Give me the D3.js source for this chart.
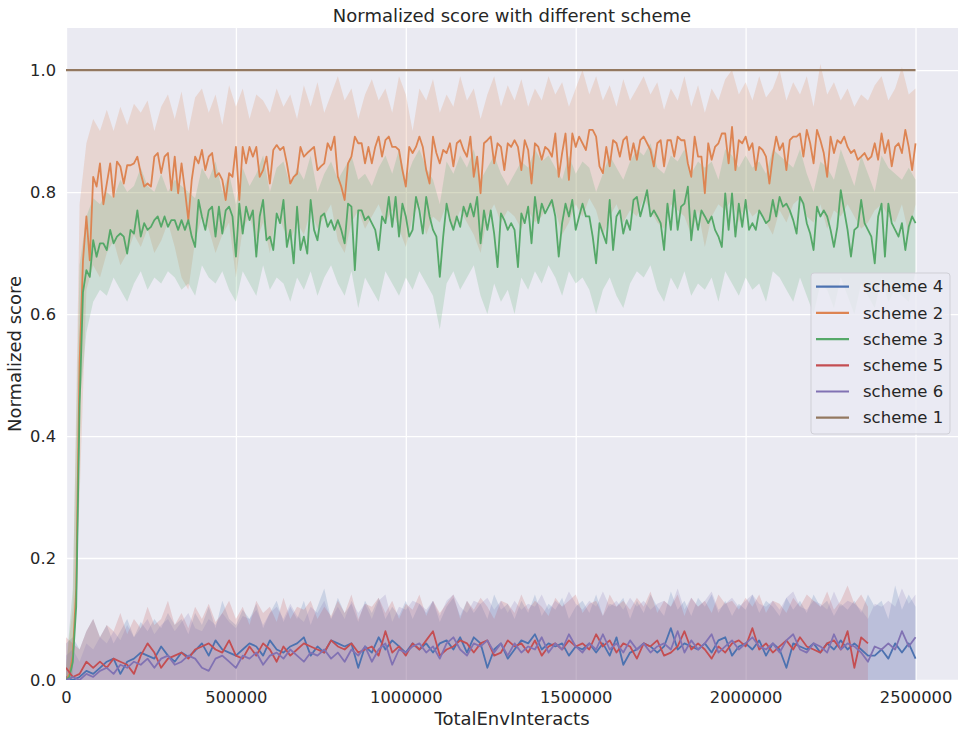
<!DOCTYPE html>
<html>
<head>
<meta charset="utf-8">
<script src="https://cdn.jsdelivr.net/npm/d3@7"></script>
<style>
body { margin: 0; background: #fff; }
text { font-family: "DejaVu Sans", sans-serif; fill: #262626; }
</style>
</head>
<body>
<svg id="chart" width="970" height="736"></svg>
<script>
// valori: medie ogni 10000 interazioni (scheme 2 e 3), il resto ogni 20000
const passo_fine = 10000
const passo = 20000

const legenda = ["scheme 4", "scheme 2", "scheme 3", "scheme 5", "scheme 6", "scheme 1"]
const x_ticks = [0, 500000, 1000000, 1500000, 2000000, 2500000]
const y_ticks = [0.0, 0.2, 0.4, 0.6, 0.8, 1.0]

// scheme 1: costante
const s1_x = [0, 2500000]
const s1_media = [1.0, 1.0]

// scheme 2 (arancione), passo 10000
const s2_media = [
 0.0, 0.01, 0.04, 0.15, 0.52, 0.688, 0.76, 0.688, 0.825, 0.809,
 0.847, 0.78, 0.814, 0.847, 0.792, 0.85, 0.842, 0.814, 0.844, 0.844,
 0.847, 0.858, 0.831, 0.809, 0.814, 0.809, 0.858, 0.864, 0.831, 0.858,
 0.864, 0.803, 0.858, 0.798, 0.847, 0.803, 0.754, 0.82, 0.858, 0.847,
 0.869, 0.836, 0.858, 0.864, 0.825, 0.831, 0.82, 0.787, 0.831, 0.825,
 0.874, 0.787, 0.874, 0.847, 0.874, 0.858, 0.874, 0.825, 0.836, 0.858,
 0.814, 0.869, 0.877, 0.869, 0.874, 0.847, 0.814, 0.825, 0.83, 0.874,
 0.858, 0.864, 0.869, 0.874, 0.836, 0.842, 0.847, 0.88, 0.869, 0.891,
 0.825, 0.809, 0.787, 0.847, 0.858, 0.891, 0.88, 0.88, 0.847, 0.874,
 0.847, 0.874, 0.891, 0.858, 0.885, 0.891, 0.874, 0.874, 0.869, 0.836,
 0.809, 0.874, 0.864, 0.874, 0.891, 0.874, 0.836, 0.814, 0.891, 0.864,
 0.847, 0.869, 0.864, 0.88, 0.842, 0.88, 0.885, 0.869, 0.858, 0.891,
 0.825, 0.858, 0.798, 0.88, 0.885, 0.891, 0.847, 0.88, 0.874, 0.836,
 0.88, 0.874, 0.885, 0.874, 0.836, 0.885, 0.869, 0.814, 0.88, 0.874,
 0.853, 0.874, 0.869, 0.858, 0.896, 0.825, 0.864, 0.896, 0.82, 0.896,
 0.874, 0.891, 0.88, 0.869, 0.902, 0.902, 0.891, 0.842, 0.831, 0.874,
 0.842, 0.885, 0.88, 0.858, 0.885, 0.891, 0.853, 0.88, 0.853, 0.885,
 0.891, 0.88, 0.869, 0.842, 0.88, 0.885, 0.842, 0.885, 0.885, 0.858,
 0.891, 0.885, 0.885, 0.847, 0.825, 0.891, 0.858, 0.858, 0.798, 0.88,
 0.853, 0.874, 0.88, 0.896, 0.896, 0.847, 0.907, 0.836, 0.885, 0.88,
 0.891, 0.869, 0.88, 0.836, 0.874, 0.869, 0.858, 0.814, 0.858, 0.891,
 0.869, 0.88, 0.836, 0.885, 0.891, 0.891, 0.896, 0.858, 0.902, 0.88,
 0.847, 0.902, 0.885, 0.864, 0.825, 0.891, 0.864, 0.885, 0.88, 0.891,
 0.874, 0.864, 0.869, 0.853, 0.858, 0.864, 0.853, 0.858, 0.88, 0.853,
 0.896, 0.864, 0.885, 0.842, 0.874, 0.88, 0.864, 0.902, 0.874, 0.836,
 0.88]
// bande, passo 20000
const s2_alto = [
 0.02, 0.12, 0.78, 0.88, 0.92, 0.9, 0.935, 0.9, 0.94, 0.91,
 0.945, 0.93, 0.95, 0.9, 0.94, 0.96, 0.92, 0.965, 0.9, 0.955,
 0.97, 0.93, 0.96, 0.91, 0.975, 0.94, 0.97, 0.92, 0.96, 0.95,
 0.93, 0.97, 0.94, 0.96, 0.92, 0.975, 0.94, 0.98, 0.93, 0.96,
 0.99, 0.95, 0.97, 0.92, 0.96, 0.985, 0.95, 0.97, 0.93, 0.99,
 0.96, 0.9, 0.97, 0.95, 0.985, 0.93, 0.96, 0.94, 0.99, 0.95,
 0.97, 0.92, 0.96, 0.99, 0.94, 0.975, 0.95, 0.985, 0.94, 0.97,
 0.95, 0.99, 0.96, 0.98, 0.94, 0.97, 1.0, 0.96, 0.99, 0.95,
 0.975, 0.94, 0.985, 0.95, 0.97, 0.99, 0.96, 0.98, 0.935, 0.97,
 0.95, 0.99, 0.94, 0.975, 0.93, 0.97, 0.95, 0.985, 1.0, 0.96,
 0.98, 0.95, 0.99, 0.955, 0.97, 1.0, 0.95, 0.98, 0.96, 0.99,
 0.94, 1.01, 0.96, 0.98, 0.95, 0.97, 0.94, 0.96, 0.95, 0.975,
 0.99, 0.95, 0.97, 1.005, 0.96, 0.97]
const s2_basso = [
 0.0, 0.02, 0.3, 0.64, 0.68, 0.66, 0.7, 0.72, 0.68, 0.7,
 0.73, 0.71, 0.74, 0.7, 0.72, 0.75, 0.71, 0.66, 0.64, 0.72,
 0.76, 0.74, 0.7, 0.73, 0.75, 0.66, 0.74, 0.76, 0.72, 0.75,
 0.7, 0.77, 0.74, 0.72, 0.75, 0.73, 0.77, 0.74, 0.76, 0.78,
 0.72, 0.7, 0.75, 0.77, 0.74, 0.76, 0.78, 0.75, 0.77, 0.74,
 0.71, 0.76, 0.78, 0.73, 0.76, 0.75, 0.78, 0.74, 0.77, 0.75,
 0.73, 0.7, 0.76, 0.78, 0.75, 0.77, 0.76, 0.74, 0.77, 0.75,
 0.76, 0.78, 0.77, 0.73, 0.75, 0.78, 0.76, 0.79, 0.77, 0.73,
 0.76, 0.78, 0.75, 0.77, 0.76, 0.79, 0.77, 0.75, 0.74, 0.78,
 0.77, 0.76, 0.73, 0.77, 0.71, 0.76, 0.78, 0.77, 0.79, 0.75,
 0.78, 0.76, 0.77, 0.75, 0.73, 0.77, 0.75, 0.78, 0.79, 0.76,
 0.75, 0.78, 0.74, 0.77, 0.76, 0.78, 0.76, 0.74, 0.75, 0.77,
 0.78, 0.76, 0.75, 0.78, 0.73, 0.78]

// scheme 3 (verde), passo 10000
const s3_media = [
 0.0, 0.005, 0.03, 0.12, 0.45, 0.636, 0.672, 0.661, 0.721, 0.694,
 0.716, 0.716, 0.705, 0.738, 0.716, 0.727, 0.732, 0.727, 0.699, 0.738,
 0.732, 0.77, 0.727, 0.749, 0.738, 0.743, 0.754, 0.76, 0.743, 0.76,
 0.743, 0.754, 0.754, 0.738, 0.754, 0.738, 0.754, 0.727, 0.71, 0.787,
 0.76, 0.738, 0.77, 0.776, 0.727, 0.776, 0.732, 0.77, 0.776, 0.76,
 0.694, 0.781, 0.732, 0.776, 0.754, 0.77, 0.694, 0.76, 0.787, 0.721,
 0.727, 0.705, 0.765, 0.749, 0.787, 0.71, 0.738, 0.683, 0.776, 0.705,
 0.727, 0.699, 0.787, 0.738, 0.721, 0.76, 0.765, 0.743, 0.754, 0.738,
 0.754, 0.738, 0.716, 0.781, 0.776, 0.672, 0.77, 0.77, 0.754, 0.76,
 0.749, 0.738, 0.705, 0.76, 0.749, 0.792, 0.743, 0.792, 0.727, 0.781,
 0.76, 0.727, 0.738, 0.792, 0.77, 0.732, 0.792, 0.76, 0.738, 0.727,
 0.661, 0.727, 0.781, 0.754, 0.738, 0.76, 0.743, 0.776, 0.76, 0.781,
 0.76, 0.792, 0.716, 0.77, 0.738, 0.77, 0.732, 0.677, 0.765, 0.754,
 0.738, 0.749, 0.738, 0.677, 0.765, 0.749, 0.776, 0.716, 0.792, 0.749,
 0.781, 0.765, 0.776, 0.787, 0.76, 0.694, 0.749, 0.781, 0.76, 0.787,
 0.738, 0.76, 0.781, 0.76, 0.76, 0.727, 0.683, 0.749, 0.732, 0.716,
 0.787, 0.705, 0.76, 0.77, 0.732, 0.754, 0.738, 0.787, 0.792, 0.76,
 0.781, 0.803, 0.76, 0.77, 0.76, 0.749, 0.705, 0.781, 0.738, 0.803,
 0.738, 0.776, 0.781, 0.809, 0.721, 0.77, 0.738, 0.77, 0.76, 0.749,
 0.76, 0.738, 0.727, 0.71, 0.798, 0.738, 0.798, 0.727, 0.781, 0.743,
 0.787, 0.738, 0.749, 0.738, 0.77, 0.76, 0.749, 0.754, 0.787, 0.76,
 0.792, 0.776, 0.781, 0.77, 0.754, 0.732, 0.792, 0.781, 0.749, 0.732,
 0.705, 0.776, 0.76, 0.77, 0.76, 0.738, 0.71, 0.743, 0.803, 0.77,
 0.738, 0.694, 0.738, 0.743, 0.787, 0.749, 0.738, 0.727, 0.683, 0.76,
 0.781, 0.694, 0.781, 0.749, 0.738, 0.727, 0.749, 0.705, 0.743, 0.76,
 0.749]
const s3_alto = [
 0.02, 0.15, 0.68, 0.76, 0.79, 0.78, 0.8, 0.79, 0.82, 0.8,
 0.81, 0.84, 0.81, 0.8, 0.83, 0.8, 0.82, 0.81, 0.8, 0.79,
 0.84, 0.82, 0.85, 0.8, 0.83, 0.78, 0.84, 0.81, 0.83, 0.86,
 0.8, 0.84, 0.85, 0.81, 0.84, 0.82, 0.86, 0.8, 0.83, 0.85,
 0.82, 0.84, 0.86, 0.82, 0.83, 0.81, 0.84, 0.86, 0.83, 0.87,
 0.82, 0.85, 0.87, 0.84, 0.82, 0.78, 0.85, 0.83, 0.86, 0.84,
 0.87, 0.82, 0.84, 0.86, 0.83, 0.81, 0.83, 0.85, 0.84, 0.87,
 0.85, 0.86, 0.84, 0.82, 0.86, 0.83, 0.85, 0.84, 0.8, 0.83,
 0.86, 0.84, 0.82, 0.85, 0.87, 0.86, 0.88, 0.84, 0.83, 0.86,
 0.85, 0.87, 0.83, 0.85, 0.84, 0.85, 0.82, 0.87, 0.86, 0.84,
 0.86, 0.84, 0.85, 0.83, 0.87, 0.86, 0.85, 0.84, 0.87, 0.83,
 0.8, 0.85, 0.84, 0.82, 0.87, 0.84, 0.81, 0.86, 0.83, 0.8,
 0.86, 0.84, 0.83, 0.82, 0.84, 0.82]
const s3_basso = [
 -0.02, 0.0, 0.45, 0.57, 0.62, 0.64, 0.63, 0.66, 0.64, 0.62,
 0.65, 0.67, 0.64, 0.66, 0.65, 0.67, 0.66, 0.64, 0.65, 0.63,
 0.68, 0.66, 0.65, 0.67, 0.64, 0.62, 0.67, 0.65, 0.63, 0.68,
 0.64, 0.66, 0.65, 0.62, 0.66, 0.64, 0.67, 0.63, 0.66, 0.68,
 0.65, 0.63, 0.67, 0.61, 0.66, 0.64, 0.62, 0.67, 0.65, 0.63,
 0.66, 0.64, 0.67, 0.65, 0.63, 0.575, 0.65, 0.67, 0.64, 0.66,
 0.68, 0.63, 0.6, 0.65, 0.62, 0.64, 0.6, 0.66, 0.64, 0.67,
 0.65, 0.68, 0.66, 0.63, 0.67, 0.65, 0.66, 0.64, 0.6, 0.64,
 0.66, 0.63, 0.61, 0.65, 0.67, 0.66, 0.68, 0.64, 0.62, 0.66,
 0.64, 0.67, 0.63, 0.65, 0.64, 0.66, 0.62, 0.67, 0.65, 0.63,
 0.66, 0.64, 0.65, 0.62, 0.67, 0.66, 0.64, 0.62, 0.66, 0.63,
 0.6, 0.65, 0.64, 0.61, 0.66, 0.63, 0.6, 0.65, 0.63, 0.61,
 0.66, 0.62, 0.64, 0.63, 0.62, 0.67]

// scheme 4 (blu), passo 20000
const s4_media = [
 0.005, 0.0, 0.005, 0.015, 0.01, 0.02, 0.03, 0.035, 0.01, 0.03,
 0.035, 0.045, 0.04, 0.035, 0.055, 0.04, 0.03, 0.045, 0.038, 0.048,
 0.06, 0.04, 0.065, 0.05, 0.045, 0.04, 0.05, 0.06, 0.055, 0.04,
 0.065, 0.05, 0.045, 0.055, 0.06, 0.07, 0.04, 0.055, 0.045, 0.065,
 0.06, 0.055, 0.06, 0.02, 0.055, 0.045, 0.07, 0.05, 0.065, 0.055,
 0.045, 0.06, 0.05, 0.06, 0.045, 0.06, 0.065, 0.05, 0.07, 0.045,
 0.07, 0.06, 0.02, 0.05, 0.06, 0.035, 0.05, 0.065, 0.06, 0.075,
 0.05, 0.06, 0.055, 0.06, 0.04, 0.055, 0.05, 0.06, 0.045, 0.06,
 0.04, 0.07, 0.025, 0.045, 0.05, 0.06, 0.055, 0.045, 0.055, 0.085,
 0.05, 0.06, 0.055, 0.05, 0.06, 0.045, 0.065, 0.07, 0.04, 0.055,
 0.06, 0.05, 0.065, 0.04, 0.06, 0.05, 0.02, 0.06, 0.055, 0.05,
 0.06, 0.045, 0.06, 0.05, 0.065, 0.05, 0.06, 0.05, 0.04, 0.04,
 0.05, 0.035, 0.06, 0.045, 0.06, 0.035]
const s4_alto = [
 0.06, 0.07, 0.05, 0.08, 0.1, 0.07, 0.09, 0.06, 0.08, 0.1,
 0.07, 0.095, 0.08, 0.1, 0.085, 0.11, 0.09, 0.1, 0.075, 0.11,
 0.09, 0.12, 0.085, 0.13, 0.1, 0.09, 0.115, 0.1, 0.125, 0.085,
 0.11, 0.13, 0.095, 0.12, 0.1, 0.13, 0.09, 0.12, 0.15, 0.1,
 0.135, 0.11, 0.125, 0.095, 0.13, 0.11, 0.135, 0.1, 0.12, 0.105,
 0.13, 0.1, 0.125, 0.11, 0.13, 0.095, 0.12, 0.135, 0.105, 0.13,
 0.11, 0.125, 0.1, 0.14, 0.115, 0.125, 0.1, 0.13, 0.11, 0.14,
 0.105, 0.125, 0.115, 0.135, 0.1, 0.12, 0.13, 0.11, 0.14, 0.105,
 0.125, 0.12, 0.135, 0.1, 0.13, 0.11, 0.14, 0.12, 0.105, 0.145,
 0.115, 0.13, 0.105, 0.135, 0.12, 0.14, 0.11, 0.13, 0.105, 0.125,
 0.115, 0.14, 0.11, 0.13, 0.12, 0.105, 0.135, 0.115, 0.13, 0.11,
 0.14, 0.12, 0.13, 0.105, 0.125, 0.115, 0.13, 0.11, 0.14, 0.12,
 0.13, 0.1, 0.155, 0.115, 0.14, 0.12]

// scheme 5 (rosso), passo 20000, finisce a 2360000
const s5_media = [
 0.02, 0.005, 0.01, 0.03, 0.02, 0.03, 0.02, 0.035, 0.03, 0.025,
 0.01, 0.04, 0.06, 0.045, 0.02, 0.035, 0.04, 0.045, 0.035, 0.05,
 0.055, 0.06, 0.05, 0.045, 0.065, 0.04, 0.035, 0.055, 0.04, 0.06,
 0.05, 0.03, 0.055, 0.04, 0.05, 0.06, 0.055, 0.05, 0.045, 0.065,
 0.055, 0.05, 0.06, 0.045, 0.05, 0.055, 0.04, 0.08, 0.045, 0.055,
 0.04, 0.06, 0.05, 0.065, 0.08, 0.04, 0.05, 0.055, 0.065, 0.06,
 0.045, 0.06, 0.065, 0.04, 0.045, 0.065, 0.055, 0.06, 0.045, 0.065,
 0.04, 0.055, 0.06, 0.05, 0.065, 0.055, 0.06, 0.05, 0.075, 0.055,
 0.065, 0.045, 0.06, 0.055, 0.035, 0.06, 0.055, 0.065, 0.04, 0.045,
 0.055, 0.08, 0.05, 0.06, 0.05, 0.035, 0.055, 0.045, 0.06, 0.065,
 0.055, 0.085, 0.05, 0.06, 0.045, 0.055, 0.065, 0.05, 0.07, 0.055,
 0.05, 0.045, 0.06, 0.065, 0.05, 0.08, 0.02, 0.07, 0.06]
const s5_alto = [
 0.07, 0.06, 0.05, 0.08, 0.1, 0.07, 0.09, 0.08, 0.11, 0.075,
 0.1, 0.085, 0.12, 0.09, 0.1, 0.13, 0.09, 0.11, 0.085, 0.12,
 0.1, 0.125, 0.095, 0.11, 0.13, 0.1, 0.12, 0.09, 0.13, 0.11,
 0.12, 0.095, 0.135, 0.1, 0.12, 0.115, 0.13, 0.1, 0.12, 0.105,
 0.13, 0.11, 0.14, 0.1, 0.125, 0.12, 0.135, 0.11, 0.13, 0.1,
 0.125, 0.115, 0.14, 0.105, 0.13, 0.11, 0.125, 0.14, 0.1, 0.13,
 0.115, 0.135, 0.12, 0.1, 0.13, 0.125, 0.11, 0.14, 0.115, 0.13,
 0.12, 0.105, 0.135, 0.12, 0.13, 0.14, 0.11, 0.125, 0.13, 0.105,
 0.14, 0.12, 0.13, 0.115, 0.135, 0.12, 0.145, 0.11, 0.13, 0.12,
 0.14, 0.105, 0.135, 0.12, 0.13, 0.11, 0.14, 0.125, 0.13, 0.115,
 0.135, 0.12, 0.14, 0.11, 0.13, 0.125, 0.11, 0.135, 0.12, 0.14,
 0.13, 0.12, 0.145, 0.115, 0.13, 0.155, 0.125, 0.14, 0.12]

// scheme 6 (viola), passo 20000
const s6_media = [
 0.0, 0.005, 0.0, 0.01, 0.005, 0.015, 0.02, 0.01, 0.025, 0.02,
 0.03, 0.025, 0.035, 0.02, 0.035, 0.04, 0.025, 0.03, 0.04, 0.035,
 0.02, 0.015, 0.035, 0.04, 0.03, 0.02, 0.04, 0.035, 0.045, 0.025,
 0.04, 0.045, 0.035, 0.05, 0.04, 0.03, 0.045, 0.04, 0.05, 0.035,
 0.045, 0.03, 0.05, 0.04, 0.055, 0.03, 0.05, 0.06, 0.025, 0.05,
 0.045, 0.055, 0.06, 0.045, 0.055, 0.035, 0.06, 0.07, 0.05, 0.04,
 0.06, 0.055, 0.065, 0.045, 0.06, 0.04, 0.06, 0.045, 0.055, 0.05,
 0.07, 0.045, 0.06, 0.05, 0.075, 0.055, 0.045, 0.06, 0.05, 0.075,
 0.05, 0.06, 0.045, 0.065, 0.05, 0.06, 0.045, 0.055, 0.06, 0.05,
 0.08, 0.045, 0.065, 0.05, 0.06, 0.075, 0.045, 0.055, 0.065, 0.05,
 0.06, 0.07, 0.055, 0.05, 0.06, 0.045, 0.065, 0.075, 0.05, 0.045,
 0.06, 0.055, 0.045, 0.075, 0.05, 0.06, 0.055, 0.045, 0.03, 0.055,
 0.05, 0.06, 0.05, 0.08, 0.055, 0.07]
const s6_alto = [
 0.04, 0.05, 0.03, 0.06, 0.05, 0.07, 0.06, 0.08, 0.065, 0.09,
 0.07, 0.085, 0.1, 0.075, 0.09, 0.1, 0.08, 0.095, 0.11, 0.085,
 0.08, 0.1, 0.09, 0.11, 0.095, 0.085, 0.105, 0.1, 0.115, 0.09,
 0.11, 0.12, 0.1, 0.125, 0.105, 0.095, 0.12, 0.11, 0.13, 0.1,
 0.12, 0.1, 0.13, 0.11, 0.125, 0.1, 0.13, 0.14, 0.095, 0.12,
 0.115, 0.13, 0.125, 0.115, 0.13, 0.105, 0.13, 0.14, 0.12, 0.11,
 0.13, 0.125, 0.135, 0.115, 0.13, 0.11, 0.13, 0.115, 0.125, 0.12,
 0.14, 0.115, 0.13, 0.12, 0.145, 0.125, 0.115, 0.13, 0.12, 0.145,
 0.12, 0.13, 0.115, 0.135, 0.12, 0.13, 0.115, 0.125, 0.13, 0.12,
 0.15, 0.115, 0.135, 0.12, 0.13, 0.145, 0.115, 0.125, 0.135, 0.12,
 0.13, 0.14, 0.125, 0.12, 0.13, 0.115, 0.135, 0.145, 0.12, 0.115,
 0.13, 0.125, 0.115, 0.145, 0.12, 0.13, 0.125, 0.115, 0.1, 0.125,
 0.12, 0.13, 0.12, 0.15, 0.125, 0.14]

const svgEl = document.getElementById("chart")
const width = +svgEl.getAttribute("width")
const height = +svgEl.getAttribute("height")
const sx = 66, dx = 958, alto = 28, basso = 680 // bordi dell'area del grafico
var svg = d3.select("#chart")
var sfondo = "#eaeaf2"

const x = d3.scaleLinear().domain([0, 2625000]).range([sx, dx])
const y = d3.scaleLinear().domain([0, 1.069]).range([basso, alto])

// serie nell'ordine della legenda (è anche l'ordine di disegno)
const serie = [
  {nome: "scheme 4", colore: "#4c72b0", media: s4_media, passo_m: passo, alto: s4_alto, basso: null},
  {nome: "scheme 2", colore: "#dd8452", media: s2_media, passo_m: passo_fine, alto: s2_alto, basso: s2_basso},
  {nome: "scheme 3", colore: "#55a868", media: s3_media, passo_m: passo_fine, alto: s3_alto, basso: s3_basso},
  {nome: "scheme 5", colore: "#c44e52", media: s5_media, passo_m: passo, alto: s5_alto, basso: null},
  {nome: "scheme 6", colore: "#8172b3", media: s6_media, passo_m: passo, alto: s6_alto, basso: null},
  {nome: "scheme 1", colore: "#937860", media: s1_media, xs: s1_x, alto: null, basso: null}
]

// sfondo
svg.append("rect")
  .attr("x", sx).attr("y", alto)
  .attr("width", dx - sx).attr("height", basso - alto)
  .attr("fill", sfondo)

// assi con griglia bianca
const asse_y = d3.axisLeft(y).tickValues(y_ticks).tickFormat(d3.format(".1f"))
  .tickSize(-(dx - sx)).tickPadding(10)
const asse_x = d3.axisBottom(x).tickValues(x_ticks).tickFormat(d3.format("d"))
  .tickSize(-(basso - alto)).tickPadding(11)

const gy = svg.append("g").attr("transform", `translate(${sx},0)`).call(asse_y)
const gx = svg.append("g").attr("transform", `translate(0,${basso})`).call(asse_x)
;[gy, gx].forEach(g => {
  g.select(".domain").remove()
  g.selectAll(".tick line").attr("stroke", "#ffffff").attr("stroke-width", 1.3)
  g.selectAll(".tick text").attr("font-size", "16.3px").attr("fill", "#262626")
    .attr("font-family", "DejaVu Sans, sans-serif")
})

svg.append("clipPath").attr("id", "area")
  .append("rect").attr("x", sx).attr("y", alto).attr("width", dx - sx).attr("height", basso - alto)

const dati = svg.append("g").attr("clip-path", "url(#area)")

// bande (sotto tutte le linee, come in matplotlib)
serie.forEach(s => {
  if (!s.alto) return
  const punti = s.alto.map((v, i) => ({
    x: i * passo,
    hi: v,
    lo: s.basso ? s.basso[i] : y.domain()[0] // il bordo inferiore sta sotto l'asse
  }))
  dati.append("path")
    .datum(punti)
    .attr("fill", s.colore)
    .attr("fill-opacity", 0.2)
    .attr("d", d3.area().x(d => x(d.x)).y0(d => y(d.lo)).y1(d => y(d.hi)))
})

// linee delle medie
serie.forEach(s => {
  const punti = s.media.map((v, i) => ({x: s.xs ? s.xs[i] : i * s.passo_m, v: v}))
  dati.append("path")
    .datum(punti)
    .attr("fill", "none")
    .attr("stroke", s.colore)
    .attr("stroke-width", s.xs ? 2.2 : 1.8)
    .attr("stroke-linejoin", "round")
    .attr("d", d3.line().x(d => x(d.x)).y(d => y(d.v)))
})

// titolo e nomi degli assi
svg.append("text")
  .attr("x", (sx + dx) / 2).attr("y", 21.5)
  .attr("text-anchor", "middle").attr("font-size", "18px")
  .text("Normalized score with different scheme")

svg.append("text")
  .attr("x", (sx + dx) / 2).attr("y", 725)
  .attr("text-anchor", "middle").attr("font-size", "18px")
  .text("TotalEnvInteracts")

svg.append("text")
  .attr("transform", `translate(21,${(alto + basso) / 2}) rotate(-90)`)
  .attr("text-anchor", "middle").attr("font-size", "18px")
  .text("Normalized score")

// legenda
const leg = svg.append("g").attr("transform", "translate(811,273)")
leg.append("rect")
  .attr("width", 139).attr("height", 161)
  .attr("rx", 3).attr("ry", 3)
  .attr("fill", sfondo).attr("fill-opacity", 0.8)
  .attr("stroke", "#cfcfd6").attr("stroke-width", 1)

legenda.forEach((nome, i) => {
  const s = serie.find(d => d.nome === nome)
  const yy = 13.7 + i * 26.2
  leg.append("line")
    .attr("x1", 5).attr("x2", 38).attr("y1", yy).attr("y2", yy)
    .attr("stroke", s.colore).attr("stroke-width", 2.2)
  leg.append("text")
    .attr("x", 52).attr("y", yy).attr("dy", "0.35em")
    .attr("font-size", "16.5px")
    .text(nome)
})
</script>
</body>
</html>
